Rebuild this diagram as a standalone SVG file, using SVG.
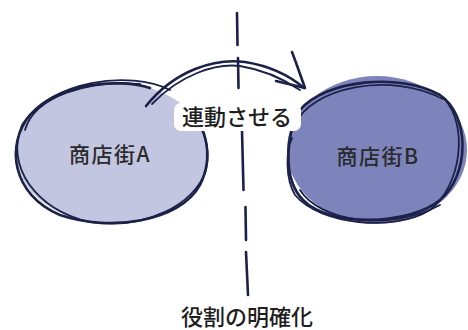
<svg xmlns="http://www.w3.org/2000/svg" width="468" height="330" viewBox="0 0 468 330">
<style>
.ink{fill:none;stroke:#1b2148;stroke-width:2.6;stroke-linecap:round;stroke-linejoin:round}
.thin{fill:none;stroke:#1b2148;stroke-width:1.8;stroke-linecap:round}
.lbl{font-family:"Noto Sans CJK JP","Noto Sans",sans-serif;font-size:22px;fill:#1e1e1e;text-anchor:middle;font-weight:500}
.node{font-size:21px;letter-spacing:1.5px;fill:#2a2a2a}
</style>
<rect width="468" height="330" fill="#ffffff"/>
<g id="divider">
<path class="ink" d="M237 13 L237.5 45 M238 58 L238.5 88 M242 131 L243.5 190 M245.5 207 L246 240 M246 252 L248 295"/>
</g>
<g id="nodeA">
<ellipse cx="112" cy="153" rx="96" ry="71" fill="#c3c6e0"/>
<path class="ink" d="M150 88 C120 78 60 82 30 115 C5 145 12 195 60 215 C110 232 180 222 200 185 C215 155 205 120 185 108"/>
<path class="thin" d="M170 90 C130 70 50 80 22 125 C5 165 35 210 90 222 C145 230 195 205 206 170 C212 145 200 120 190 115"/>
<path class="thin" d="M25 130 C35 95 90 80 140 84"/>
<text class="lbl node" x="110" y="162">商店街A</text>
</g>
<g id="nodeB">
<ellipse cx="377" cy="150" rx="90" ry="74" fill="#7c84bb"/>
<path class="ink" d="M300 110 C325 80 400 72 440 95 C470 115 470 175 440 200 C410 225 330 228 303 200 C283 180 285 135 300 110"/>
<path class="thin" d="M295 125 C310 88 390 70 445 100 C468 125 462 185 430 210 C395 232 320 225 295 195 C285 178 286 150 292 138"/>
<path class="thin" d="M300 190 C320 222 390 232 440 205"/>
<text class="lbl node" x="378" y="164">商店街B</text>
</g>
<g id="connectors">
<path class="ink" d="M146 106 C175 70 215 58 245 62 C270 66 290 76 304 88"/>
<path class="thin" d="M152 104 C180 75 215 63 240 66 C265 70 285 80 300 90"/>
<path class="ink" d="M292 52 C297 65 301 77 305 88 L276 81"/>
</g>
<g id="label-link">
<rect x="174" y="103" width="127" height="28" rx="7" fill="#ffffff"/>
<text class="lbl" x="237" y="125">連動させる</text>
</g>
<g id="label-role">
<text class="lbl" x="247" y="325">役割の明確化</text>
</g>
</svg>
